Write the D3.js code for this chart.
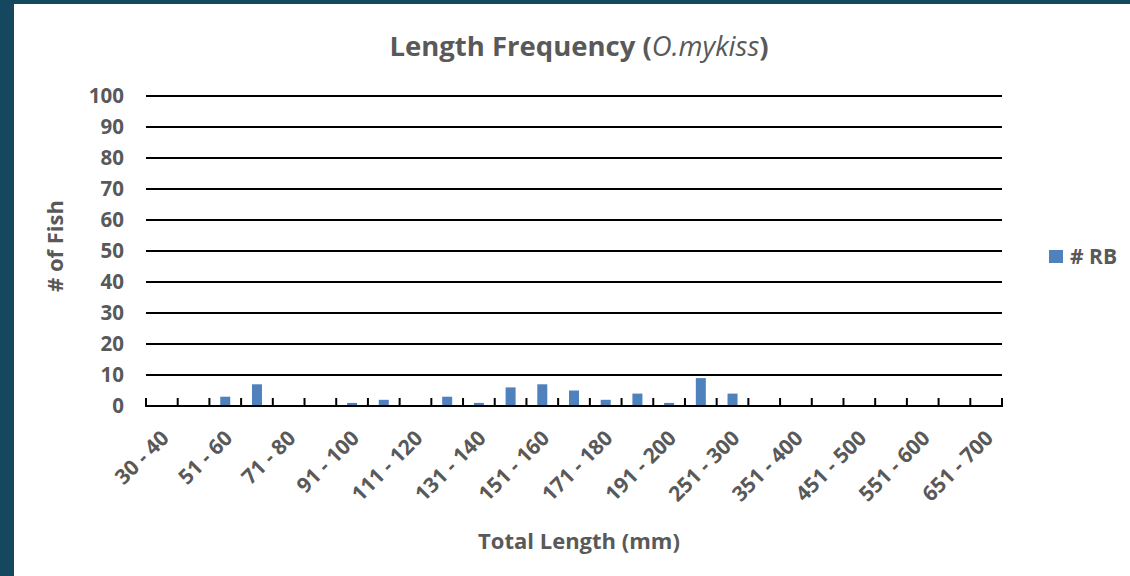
<!DOCTYPE html>
<html>
<head>
<meta charset="utf-8">
<script src="https://cdn.jsdelivr.net/npm/d3@7"></script>
<style>
  html, body { margin: 0; padding: 0; background: #15475f; }
  svg { display: block; }
  text { font-family: "Open Sans", sans-serif; fill: #595959; }
</style>
</head>
<body>
<svg id="chart" width="1130" height="576"></svg>
<script>
const categories = ["30 - 40","41 - 50","51 - 60","61 - 70","71 - 80","81 - 90","91 - 100","101 - 110",
  "111 - 120","121 - 130","131 - 140","141 - 150","151 - 160","161 - 170","171 - 180","181 - 190",
  "191 - 200","201 - 250","251 - 300","301 - 350","351 - 400","401 - 450","451 - 500","501 - 550",
  "551 - 600","601 - 650","651 - 700"];
const rbCounts = [0,0,3,7,0,0,1,2,0,3,1,6,7,5,2,4,1,9,4,0,0,0,0,0,0,0,0];
const yTicks = [0,10,20,30,40,50,60,70,80,90,100];
const seriesName = "# RB";
const titleMain = "Length Frequency (";
const titleItalic = "O.mykiss";
const titleEnd = ")";
const xTitle = "Total Length (mm)";
const yTitle = "# of Fish";

const svg = d3.select("#chart");
// white chart area inside the dark frame
svg.append("rect").attr("x", 14).attr("y", 4).attr("width", 1130 - 14).attr("height", 576 - 4).attr("fill", "#ffffff");

const margin = {left: 146, right: 1002, top: 96, bottom: 406};
const x = d3.scaleBand().domain(categories).range([margin.left, margin.right]).paddingInner(0).paddingOuter(0);
const y = d3.scaleLinear().domain([0, 100]).range([margin.bottom, margin.top]);

// gridlines
svg.append("g").selectAll("line").data(yTicks.filter(d => d > 0)).join("line")
  .attr("x1", margin.left).attr("x2", margin.right)
  .attr("y1", d => y(d)).attr("y2", d => y(d))
  .attr("stroke", "#000").attr("stroke-width", 2);

// y tick labels
svg.append("g").selectAll("text").data(yTicks).join("text")
  .attr("x", 124).attr("y", d => y(d))
  .attr("dy", "0.36em").attr("text-anchor", "end")
  .style("font-size", "20.5px").style("font-weight", "700")
  .text(d => d);

// bars
const barW = 10;
svg.append("g").selectAll("rect").data(categories.map((c, i) => ({c, v: rbCounts[i]})).filter(d => d.v > 0)).join("rect")
  .attr("x", d => x(d.c) + x.bandwidth() / 2 - barW / 2)
  .attr("width", barW)
  .attr("y", d => y(d.v))
  .attr("height", d => y(0) - y(d.v))
  .attr("fill", "#4f81bd");

// x axis line and ticks
const gx = svg.append("g");
gx.append("line").attr("x1", margin.left - 1).attr("x2", margin.right + 1)
  .attr("y1", y(0)).attr("y2", y(0)).attr("stroke", "#000").attr("stroke-width", 2);
const tickPos = categories.map(c => x(c)).concat([x.range()[1]]);
gx.selectAll("line.tick").data(tickPos).join("line").attr("class", "tick")
  .attr("x1", d => d).attr("x2", d => d)
  .attr("y1", y(0)).attr("y2", y(0) - 8)
  .attr("stroke", "#000").attr("stroke-width", 2);

// x labels (every other category)
gx.selectAll("text").data(categories.filter((c, i) => i % 2 === 0)).join("text")
  .attr("text-anchor", "end")
  .attr("transform", d => `translate(${x(d) + x.bandwidth() / 2 - 2},${y(0) + 23}) rotate(-45)`)
  .attr("dy", "0.7em")
  .style("font-size", "21px").style("font-weight", "700")
  .text(d => d);

// title
const t = svg.append("text").attr("x", 579).attr("y", 56).attr("text-anchor", "middle")
  .style("font-size", "27.5px").style("font-weight", "700");
t.append("tspan").text(titleMain);
t.append("tspan").style("font-style", "italic").style("font-weight", "400").text(titleItalic);
t.append("tspan").text(titleEnd);

// axis titles
svg.append("text").attr("x", 579).attr("y", 549).attr("text-anchor", "middle")
  .style("font-size", "22px").style("font-weight", "700").text(xTitle);
svg.append("text").attr("transform", "translate(63,246) rotate(-90)").attr("text-anchor", "middle")
  .style("font-size", "22px").style("font-weight", "700").text(yTitle);

// legend
const lg = svg.append("g");
lg.append("rect").attr("x", 1049).attr("y", 250).attr("width", 14).attr("height", 13).attr("fill", "#4f81bd");
lg.append("text").attr("x", 1070).attr("y", 264).style("font-size", "21px").style("font-weight", "700").text(seriesName);
</script>
</body>
</html>
